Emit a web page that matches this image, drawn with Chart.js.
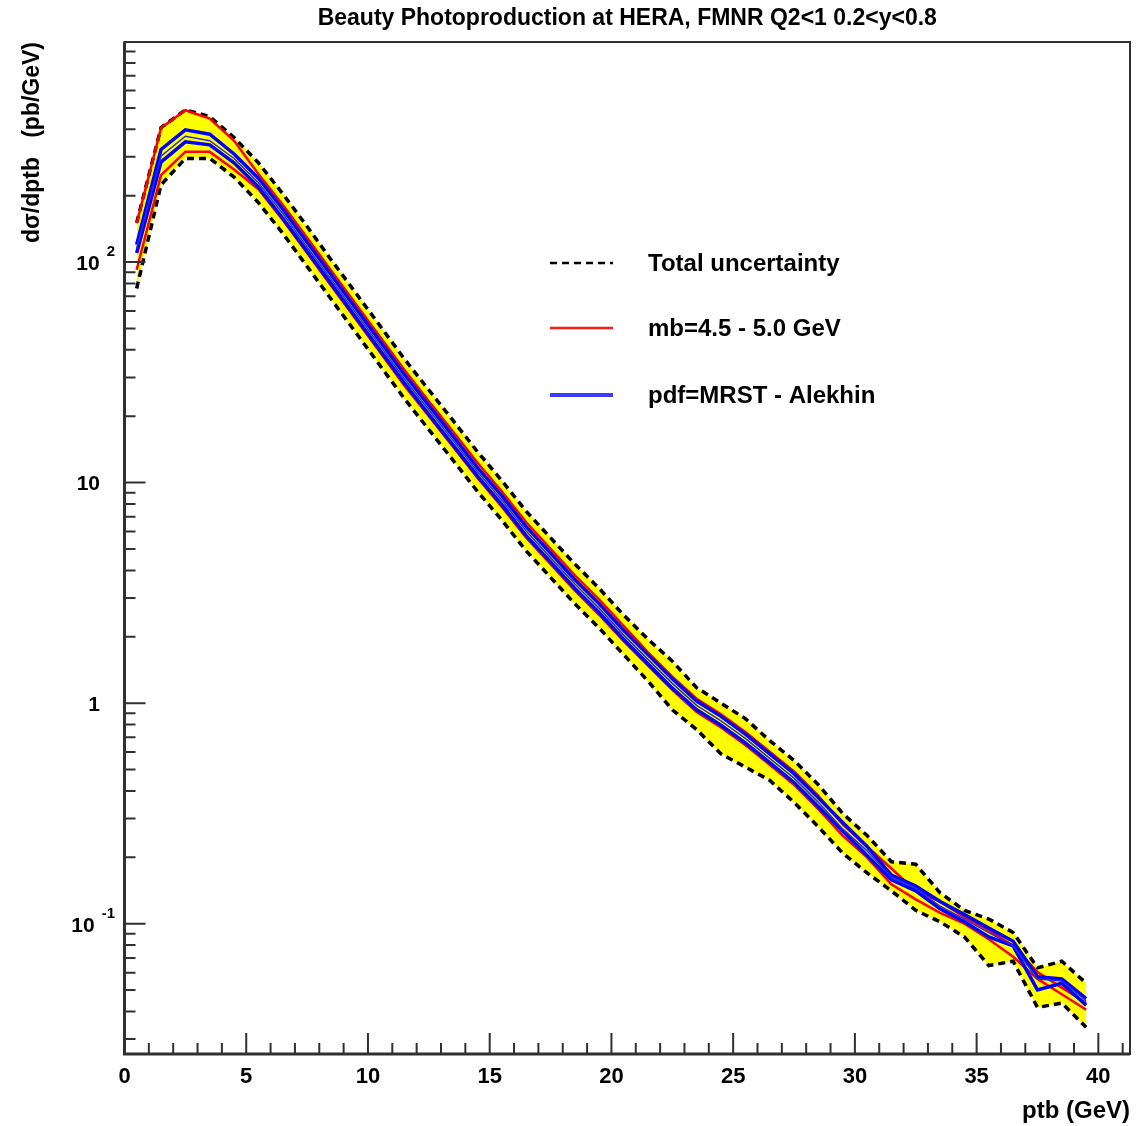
<!DOCTYPE html>
<html lang="en">
<head>
<meta charset="UTF-8">
<title>Beauty Photoproduction at HERA</title>
<script src="https://cdn.jsdelivr.net/npm/chart.js"></script>
<style>
  body { margin: 0; background: #ffffff; }
  canvas { display: block; }
</style>
</head>
<body>
<canvas id="chart" width="1138" height="1126"></canvas>
<script>
// bin centres (GeV)
const ptb = [0.5, 1.5, 2.5, 3.5, 4.5, 5.5, 6.5, 7.5, 8.5, 9.5,
  10.5, 11.5, 12.5, 13.5, 14.5, 15.5, 16.5, 17.5, 18.5, 19.5,
  20.5, 21.5, 22.5, 23.5, 24.5, 25.5, 26.5, 27.5, 28.5, 29.5,
  30.5, 31.5, 32.5, 33.5, 34.5, 35.5, 36.5, 37.5, 38.5, 39.5];

// dsigma/dptb (pb/GeV)
const totalUp = [151, 407, 490, 457, 367, 282, 204, 145, 102, 72.4,
  51.3, 36.3, 26.3, 19.1, 13.8, 10.2, 7.41, 5.62, 4.27, 3.31,
  2.51, 1.95, 1.55, 1.175, 1.00, 0.851, 0.676, 0.550, 0.427, 0.316,
  0.251, 0.191, 0.186, 0.138, 0.115, 0.105, 0.0912, 0.0631, 0.0676, 0.0537];
const totalDown = [75.9, 224, 295, 295, 243, 186, 135, 95.5, 67.6, 47.9,
  33.9, 24.0, 17.4, 12.6, 9.12, 6.76, 4.90, 3.72, 2.82, 2.19,
  1.66, 1.26, 0.933, 0.759, 0.589, 0.513, 0.447, 0.355, 0.275, 0.209,
  0.170, 0.141, 0.115, 0.102, 0.0871, 0.0646, 0.0676, 0.0417, 0.0437, 0.0339];
const mbUp = [150, 405, 488, 447, 355, 251, 182, 129, 91.2, 64.6,
  45.7, 32.4, 23.4, 17.0, 12.3, 9.12, 6.61, 5.01, 3.80, 2.95,
  2.24, 1.70, 1.32, 1.047, 0.891, 0.741, 0.603, 0.490, 0.380, 0.282,
  0.224, 0.178, 0.141, 0.126, 0.107, 0.0933, 0.0794, 0.0603, 0.0513, 0.0437];
const mbDown = [92.3, 248, 316, 316, 263, 214, 155, 110, 77.6, 55.0,
  38.9, 27.5, 20.0, 14.5, 10.5, 7.76, 5.62, 4.27, 3.24, 2.51,
  1.91, 1.48, 1.15, 0.912, 0.776, 0.646, 0.525, 0.427, 0.331, 0.251,
  0.200, 0.151, 0.129, 0.112, 0.100, 0.0851, 0.0708, 0.0562, 0.0479, 0.0407];
const pdfUp = [120, 324, 398, 380, 309, 240, 174, 123, 87.1, 61.7,
  43.7, 30.9, 22.4, 16.2, 11.7, 8.71, 6.31, 4.79, 3.63, 2.82,
  2.14, 1.66, 1.29, 1.023, 0.871, 0.724, 0.589, 0.479, 0.372, 0.288,
  0.224, 0.166, 0.148, 0.126, 0.110, 0.0955, 0.0832, 0.0575, 0.0562, 0.0457];
const pdfDown = [110, 284, 351, 340, 282, 219, 158, 112, 79.4, 56.2,
  39.8, 28.2, 20.4, 14.8, 10.7, 7.94, 5.75, 4.37, 3.31, 2.57,
  1.95, 1.51, 1.17, 0.933, 0.794, 0.661, 0.537, 0.437, 0.339, 0.263,
  0.204, 0.158, 0.141, 0.117, 0.102, 0.0871, 0.0794, 0.0501, 0.0537, 0.0427];
const central = [115, 302, 372, 355, 295, 229, 166, 117, 83.2, 58.9,
  41.7, 29.5, 21.4, 15.5, 11.2, 8.32, 6.03, 4.57, 3.47, 2.69,
  2.04, 1.58, 1.23, 0.977, 0.832, 0.692, 0.562, 0.457, 0.355, 0.269,
  0.214, 0.162, 0.145, 0.120, 0.105, 0.0912, 0.0794, 0.0562, 0.0550, 0.0447];

// axis labels
const xTickLabels = [0, 5, 10, 15, 20, 25, 30, 35, 40];
const yLabelValues = [100, 10, 1, 0.1];
const yLabelBase = ['10', '10', '1', '10'];
const yLabelExp = ['2', '', '', '-1'];

const legendText = ['Total uncertainty', 'mb=4.5 - 5.0 GeV', 'pdf=MRST - Alekhin'];

const FONT = '"Liberation Sans", Arial, Helvetica, sans-serif';

function pts(arr) {
  return arr.map((v, i) => ({ x: ptb[i], y: v }));
}

const line = (data, color, width, extra) => Object.assign({
  data: pts(data),
  borderColor: color,
  borderWidth: width,
  pointRadius: 0,
  tension: 0,
  fill: false
}, extra || {});

// ROOT style frame, inward ticks, exponent labels and legend
const rootAxes = {
  id: 'rootAxes',
  afterDraw(chart) {
    const { ctx, chartArea: a, scales: { x, y } } = chart;
    ctx.save();

    ctx.strokeStyle = '#303030';
    ctx.lineWidth = 2;
    ctx.strokeRect(a.left, a.top, a.right - a.left, a.bottom - a.top);
    ctx.lineWidth = 3;
    ctx.beginPath();
    ctx.moveTo(a.left, a.top);
    ctx.lineTo(a.left, a.bottom);
    ctx.lineTo(a.right, a.bottom);
    ctx.stroke();

    ctx.lineWidth = 2;
    ctx.beginPath();
    for (let v = 0; v <= x.max; v++) {
      const px = x.getPixelForValue(v);
      const len = v % 5 === 0 ? 21 : 11;
      ctx.moveTo(px, a.bottom);
      ctx.lineTo(px, a.bottom - len);
    }
    for (let k = -2; k <= 2; k++) {
      for (let m = 1; m <= 9; m++) {
        const v = m * Math.pow(10, k);
        if (v < y.min || v > y.max) continue;
        const py = y.getPixelForValue(v);
        const len = m === 1 ? 21 : 11;
        ctx.moveTo(a.left, py);
        ctx.lineTo(a.left + len, py);
      }
    }
    ctx.stroke();

    // y labels
    ctx.fillStyle = '#000';
    ctx.textBaseline = 'middle';
    yLabelValues.forEach((v, i) => {
      const py = y.getPixelForValue(v);
      if (yLabelExp[i]) {
        ctx.font = 'bold 15px ' + FONT;
        const ew = ctx.measureText(yLabelExp[i]).width;
        const ex = 115 - ew;
        ctx.textAlign = 'left';
        ctx.fillText(yLabelExp[i], ex, py - 10);
        ctx.font = 'bold 21px ' + FONT;
        ctx.textAlign = 'right';
        ctx.fillText(yLabelBase[i], ex - 7, py + 2);
      } else {
        ctx.font = 'bold 21px ' + FONT;
        ctx.textAlign = 'right';
        ctx.fillText(yLabelBase[i], 100, py + 2);
      }
    });

    // legend
    const rows = [263, 328, 395];
    const styles = [
      { color: '#000000', width: 2.5, dash: [7, 5] },
      { color: '#ff1a1a', width: 2.5, dash: [] },
      { color: '#3b3bff', width: 4, dash: [] }
    ];
    rows.forEach((ry, i) => {
      ctx.strokeStyle = styles[i].color;
      ctx.lineWidth = styles[i].width;
      ctx.setLineDash(styles[i].dash);
      ctx.beginPath();
      ctx.moveTo(550, ry);
      ctx.lineTo(613, ry);
      ctx.stroke();
      ctx.setLineDash([]);
      ctx.font = 'bold 24px ' + FONT;
      ctx.textAlign = 'left';
      ctx.fillStyle = '#000';
      ctx.fillText(legendText[i], 648, ry + 1);
    });

    ctx.restore();
  }
};

new Chart(document.getElementById('chart'), {
  type: 'line',
  data: {
    datasets: [
      line(central, '#2a2ae6', 1.5),
      line(pdfUp, '#0000ff', 3.5),
      line(pdfDown, '#0000ff', 3.5),
      line(mbUp, '#ff0000', 2.5),
      line(mbDown, '#ff0000', 2.5),
      line(totalUp, '#000000', 3.5, { borderDash: [7, 5] }),
      line(totalDown, '#000000', 3.5, { borderDash: [7, 5], fill: '-1', backgroundColor: '#ffff00' })
    ]
  },
  options: {
    responsive: false,
    animation: false,
    layout: { padding: { left: 0, right: 8, top: 0, bottom: 0 } },
    plugins: {
      legend: { display: false },
      tooltip: { enabled: false },
      title: {
        display: true,
        fullSize: false,
        text: 'Beauty Photoproduction at HERA, FMNR Q2<1 0.2<y<0.8',
        color: '#000',
        font: { family: FONT, size: 23, weight: 'bold' },
        padding: { top: 5, bottom: 9.4 }
      }
    },
    scales: {
      x: {
        type: 'linear',
        min: 0,
        max: 41.3,
        grid: { display: false, drawTicks: false },
        border: { display: false },
        afterBuildTicks: s => { s.ticks = xTickLabels.map(v => ({ value: v })); },
        afterFit: s => { s.height = 72; },
        ticks: {
          color: '#000',
          font: { family: FONT, size: 22, weight: 'bold' },
          padding: 10,
          maxRotation: 0
        },
        title: {
          display: true,
          text: 'ptb (GeV)',
          align: 'end',
          color: '#000',
          font: { family: FONT, size: 24, weight: 'bold' },
          padding: { top: 0, bottom: 0 }
        }
      },
      y: {
        type: 'logarithmic',
        min: 0.02566,
        max: 995,
        grid: { display: false, drawTicks: false },
        border: { display: false },
        ticks: { display: false },
        afterFit: s => { s.width = 124.5; },
        title: {
          display: true,
          text: 'd\u03c3/dptb   (pb/GeV)',
          align: 'end',
          color: '#000',
          font: { family: FONT, size: 23, weight: 'bold' },
          padding: { top: 19, bottom: 0 }
        }
      }
    }
  },
  plugins: [rootAxes]
});
</script>
</body>
</html>
